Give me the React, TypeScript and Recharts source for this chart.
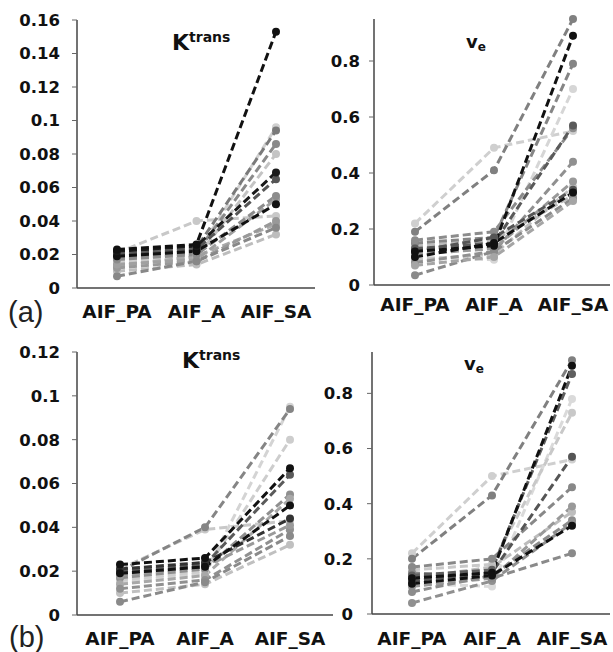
import { LineChart, Line, XAxis, YAxis } from 'recharts';

const CATEGORIES = ['AIF_PA', 'AIF_A', 'AIF_SA'];

// one row per subject: [AIF_PA, AIF_A, AIF_SA]
const ktransA = [
  [0.015, 0.018, 0.08],
  [0.016, 0.02, 0.096],
  [0.021, 0.04, 0.043],
  [0.01, 0.014, 0.032],
  [0.013, 0.019, 0.038],
  [0.012, 0.016, 0.04],
  [0.014, 0.017, 0.053],
  [0.007, 0.016, 0.036],
  [0.017, 0.02, 0.055],
  [0.018, 0.021, 0.086],
  [0.021, 0.024, 0.094],
  [0.02, 0.023, 0.065],
  [0.019, 0.022, 0.05],
  [0.022, 0.025, 0.069],
  [0.023, 0.026, 0.153],
];
const ktransAColors = [
  '#c4c4c4', '#d0d0d0', '#c8c8c8', '#bdbdbd', '#aaaaaa', '#999999', '#a0a0a0', '#888888',
  '#8c8c8c', '#8a8a8a', '#7a7a7a', '#555555', '#111111', '#1a1a1a', '#111111',
];

const veA = [
  [0.22, 0.49, 0.55],
  [0.1, 0.09, 0.7],
  [0.09, 0.11, 0.35],
  [0.14, 0.16, 0.32],
  [0.19, 0.41, 0.95],
  [0.15, 0.17, 0.79],
  [0.16, 0.19, 0.56],
  [0.08, 0.12, 0.44],
  [0.11, 0.13, 0.37],
  [0.035, 0.12, 0.31],
  [0.07, 0.1, 0.3],
  [0.13, 0.15, 0.57],
  [0.12, 0.17, 0.34],
  [0.12, 0.14, 0.89],
  [0.1, 0.15, 0.33],
];
const veAColors = [
  '#cfcfcf', '#d6d6d6', '#c0c0c0', '#bbbbbb', '#808080', '#858585', '#8c8c8c', '#909090',
  '#999999', '#8a8a8a', '#a5a5a5', '#5a5a5a', '#555555', '#111111', '#111111',
];

const ktransB = [
  [0.015, 0.019, 0.095],
  [0.016, 0.02, 0.08],
  [0.021, 0.039, 0.043],
  [0.01, 0.014, 0.032],
  [0.02, 0.04, 0.094],
  [0.017, 0.021, 0.055],
  [0.014, 0.018, 0.053],
  [0.012, 0.016, 0.039],
  [0.006, 0.015, 0.036],
  [0.018, 0.022, 0.041],
  [0.02, 0.023, 0.064],
  [0.021, 0.024, 0.044],
  [0.019, 0.022, 0.05],
  [0.023, 0.026, 0.067],
];
const ktransBColors = [
  '#d4d4d4', '#cdcdcd', '#c8c8c8', '#c0c0c0', '#858585', '#8f8f8f', '#a8a8a8', '#909090',
  '#8a8a8a', '#9a9a9a', '#5a5a5a', '#333333', '#111111', '#111111',
];

const veB = [
  [0.22, 0.5, 0.56],
  [0.11, 0.1, 0.78],
  [0.16, 0.18, 0.73],
  [0.13, 0.17, 0.37],
  [0.2, 0.43, 0.92],
  [0.17, 0.2, 0.46],
  [0.1, 0.13, 0.39],
  [0.08, 0.14, 0.34],
  [0.04, 0.12, 0.33],
  [0.15, 0.13, 0.22],
  [0.14, 0.16, 0.87],
  [0.12, 0.15, 0.57],
  [0.13, 0.15, 0.9],
  [0.11, 0.14, 0.32],
];
const veBColors = [
  '#cfcfcf', '#dadada', '#c8c8c8', '#bdbdbd', '#808080', '#888888', '#999999', '#8c8c8c',
  '#909090', '#8a8a8a', '#5f5f5f', '#555555', '#111111', '#111111',
];

const KTRANS_A_TICKS = [0, 0.02, 0.04, 0.06, 0.08, 0.1, 0.12, 0.14, 0.16];
const KTRANS_B_TICKS = [0, 0.02, 0.04, 0.06, 0.08, 0.1, 0.12];
const VE_TICKS = [0, 0.2, 0.4, 0.6, 0.8];

const FONT = '"DejaVu Sans", Verdana, sans-serif';

const toTable = (rows: number[][]) =>
  CATEGORIES.map((cat, ci) => {
    const o: Record<string, any> = { cat };
    rows.forEach((r, si) => (o['s' + si] = r[ci]));
    return o;
  });

interface PanelProps {
  rows: number[][];
  colors: string[];
  ticks: number[];
  yMax: number;
  left: number;
  top: number;
  width: number;
  height: number;
  marginTop: number;
  marginRight: number;
  xHeight: number;
  padL: number;
  padR: number;
  yGap: number;
  xGap: number;
}

const Panel = (p: PanelProps) => (
  <div style={{ position: 'absolute', left: p.left, top: p.top }}>
    <LineChart
      width={p.width}
      height={p.height}
      data={toTable(p.rows)}
      margin={{ top: p.marginTop, right: p.marginRight, left: 0, bottom: 0 }}
    >
      <XAxis
        dataKey="cat"
        height={p.xHeight}
        padding={{ left: p.padL, right: p.padR }}
        axisLine={{ stroke: '#444', strokeWidth: 1.5 }}
        tickLine={false}
        tickSize={0}
        tickMargin={p.xGap}
        tick={{ fill: '#111', fontSize: 18.5, fontWeight: 'bold', fontFamily: FONT }}
      />
      <YAxis
        type="number"
        width={77}
        domain={[0, p.yMax]}
        ticks={p.ticks}
        interval={0}
        axisLine={{ stroke: '#444', strokeWidth: 1.5 }}
        tickLine={{ stroke: '#666' }}
        tickSize={5}
        tickMargin={p.yGap - 5}
        tick={{ fill: '#111', fontSize: 16.5, fontWeight: 'bold', fontFamily: FONT }}
      />
      {p.rows.map((_, i) => (
        <Line
          key={i}
          dataKey={'s' + i}
          stroke={p.colors[i]}
          strokeWidth={3}
          strokeDasharray="8 4"
          dot={{ r: 4, fill: p.colors[i], stroke: p.colors[i], strokeWidth: 0 }}
          activeDot={false}
          isAnimationActive={false}
        />
      ))}
    </LineChart>
  </div>
);

export default function App() {
  return (
    <div style={{ position: 'absolute', left: 0, top: 0, width: 613, height: 652, background: '#fff', overflow: 'hidden' }}>
      <Panel rows={ktransA} colors={ktransAColors} ticks={KTRANS_A_TICKS} yMax={0.16}
        left={0} top={0} width={316} height={330} marginTop={20} marginRight={1} xHeight={42}
        padL={40} padR={39} yGap={17} xGap={17} />
      <Panel rows={veA} colors={veAColors} ticks={VE_TICKS} yMax={0.95}
        left={297} top={0} width={316} height={330} marginTop={19} marginRight={3} xHeight={45}
        padL={41} padR={37} yGap={14} xGap={13} />
      <Panel rows={ktransB} colors={ktransBColors} ticks={KTRANS_B_TICKS} yMax={0.12}
        left={0} top={320} width={340} height={332} marginTop={32} marginRight={7} xHeight={37}
        padL={43} padR={43} yGap={17} xGap={17} />
      <Panel rows={veB} colors={veBColors} ticks={VE_TICKS} yMax={0.95}
        left={295} top={320} width={318} height={332} marginTop={32} marginRight={3} xHeight={38}
        padL={40} padR={38} yGap={19} xGap={18} />
      <svg width={613} height={652} style={{ position: 'absolute', left: 0, top: 0, pointerEvents: 'none' }}>
        <text x={172} y={50} fontFamily={FONT} fontWeight="bold" fontSize={22} fill="#111">
          K<tspan fontSize={14} dy={-8}>trans</tspan>
        </text>
        <text x={182} y={368} fontFamily={FONT} fontWeight="bold" fontSize={22} fill="#111">
          K<tspan fontSize={14} dy={-8}>trans</tspan>
        </text>
        <text x={466} y={48} fontFamily={FONT} fontWeight="bold" fontSize={18} fill="#111">
          v<tspan fontSize={12} dy={3}>e</tspan>
        </text>
        <text x={464} y={370} fontFamily={FONT} fontWeight="bold" fontSize={18} fill="#111">
          v<tspan fontSize={12} dy={3}>e</tspan>
        </text>
        <text x={8} y={322} fontFamily='"Liberation Sans", Arial, sans-serif' fontSize={29} fill="#222">(a)</text>
        <text x={9} y={647} fontFamily='"Liberation Sans", Arial, sans-serif' fontSize={29} fill="#222">(b)</text>
      </svg>
    </div>
  );
}
